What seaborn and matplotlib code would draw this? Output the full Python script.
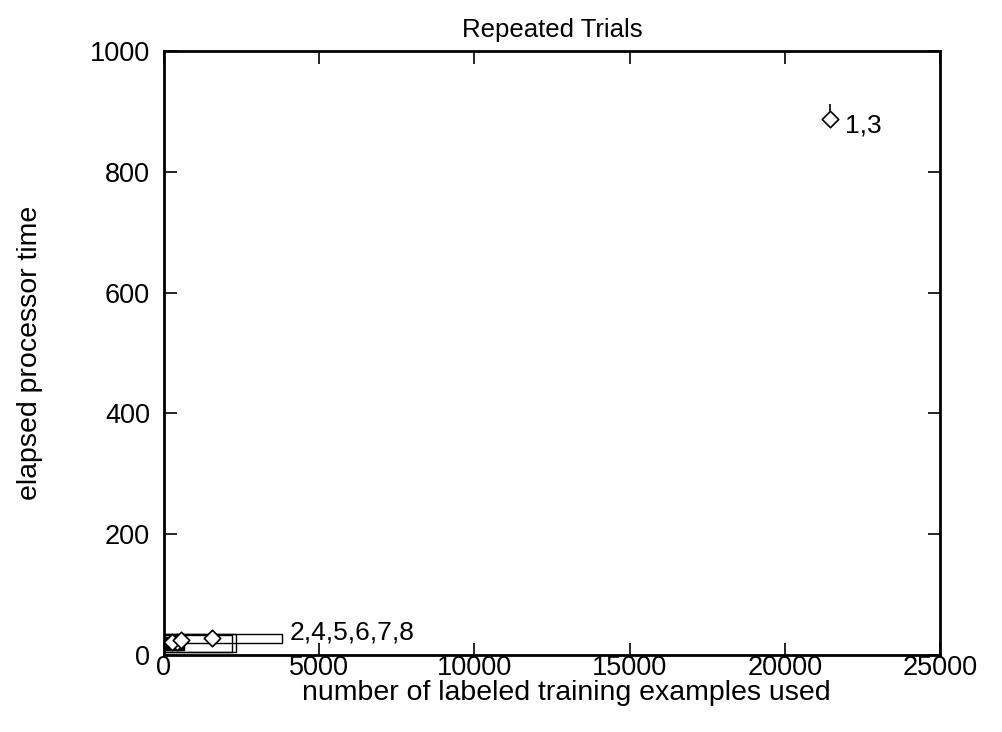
import matplotlib
matplotlib.use("Agg")
import matplotlib.pyplot as plt
from matplotlib.patches import Rectangle
import seaborn as sns
import pandas as pd

# Mean position of each trial group (examples used, processor time)
point_x = [21450, 1550, 420, 250, 560]
point_y = [887, 28, 22, 21, 24]

# Vertical spread of the large run
err_x = [21450]
err_y = [887]
err_lo = [8]
err_hi = [25]

# Ranges covered by the short runs (x from, x to, y from, y to)
box_x0 = [0, 0, 0, 0]
box_x1 = [3800, 2320, 2180, 640]
box_y0 = [20, 5, 5, 8]
box_y1 = [35, 35, 33, 30]
box_fill = ["none", "none", "none", "black"]

group_labels = ["1,3", "2,4,5,6,7,8"]
label_x = [21950, 4050]
label_y = [876, 38]

TICK_FS = 19.5
LABEL_FS = 20.5

sns.set_theme(style="ticks")
plt.rcParams["font.family"] = ["Liberation Sans", "DejaVu Sans"]

fig = plt.figure(figsize=(10.03, 7.32), dpi=100)
ax = fig.add_axes([0.1635, 0.1052, 0.7737, 0.8251])

for x0, x1, y0, y1, fc in zip(box_x0, box_x1, box_y0, box_y1, box_fill):
    ax.add_patch(Rectangle((x0, y0), x1 - x0, y1 - y0, facecolor=fc,
                           edgecolor="black", linewidth=1.0, zorder=2))

ax.errorbar(err_x, err_y, yerr=[err_lo, err_hi], fmt="none",
            ecolor="black", elinewidth=1.2, capsize=0, zorder=3)

df = pd.DataFrame({"x": point_x, "y": point_y})
sns.scatterplot(data=df, x="x", y="y", marker="D", s=70, facecolor="white",
                edgecolor="black", linewidth=1.2, ax=ax, zorder=4)

for txt, lx, ly in zip(group_labels, label_x, label_y):
    ax.text(lx, ly, txt, fontsize=19, va="center", ha="left", color="black")

ax.set_xlim(0, 25000)
ax.set_ylim(0, 1000)
ax.set_xticks([0, 5000, 10000, 15000, 20000, 25000])
ax.set_yticks([0, 200, 400, 600, 800, 1000])
ax.tick_params(direction="in", length=9, width=1.2, labelsize=TICK_FS, colors="black",
               top=True, right=True)
ax.tick_params(axis="y", pad=10)
ax.tick_params(axis="x", pad=0)
for sp in ax.spines.values():
    sp.set_linewidth(2)
    sp.set_color("black")

ax.set_title("Repeated Trials", fontsize=18.5, pad=10, color="black")
ax.set_xlabel("number of labeled training examples used", fontsize=LABEL_FS,
              va="baseline", color="black")
ax.set_ylabel("elapsed processor time", fontsize=LABEL_FS, va="center", color="black")
ax.xaxis.set_label_coords(0.518, -0.0745)
ax.yaxis.set_label_coords(-0.173, 0.5)

fig.savefig("out.png", dpi=100)
